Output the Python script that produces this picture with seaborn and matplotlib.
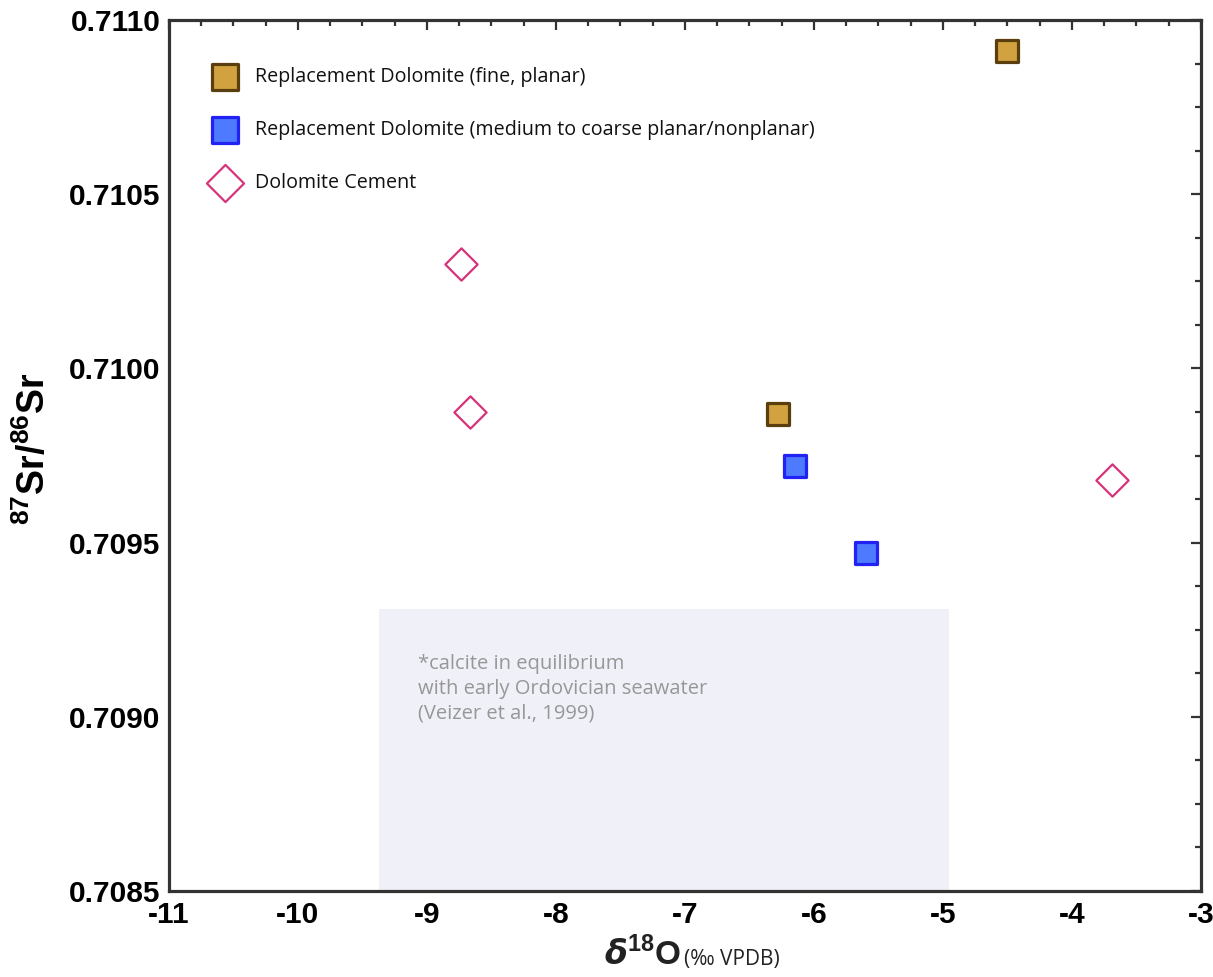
import matplotlib
matplotlib.use("Agg")
import matplotlib.pyplot as plt
from matplotlib.ticker import MultipleLocator, FormatStrFormatter
from matplotlib.patches import Rectangle
import seaborn as sns
import pandas as pd

# Sample groups: d18O (per mil VPDB) vs 87Sr/86Sr
fine_x = [-4.50, -6.28]
fine_y = [0.71091, 0.70987]
coarse_x = [-6.15, -5.60]
coarse_y = [0.70972, 0.70947]
cement_x = [-8.74, -8.67, -3.69]
cement_y = [0.71030, 0.709875, 0.70968]

labels = [
    "Replacement Dolomite (fine, planar)",
    "Replacement Dolomite (medium to coarse planar/nonplanar)",
    "Dolomite Cement",
]

# Seawater-equilibrium calcite field
sw_x = (-9.37, -4.95)
sw_y = (0.7085, 0.70931)
sw_note = "*calcite in equilibrium\nwith early Ordovician seawater\n(Veizer et al., 1999)"

sns.set_theme(style="white")
plt.rcParams["font.family"] = ["Liberation Sans", "DejaVu Sans"]
plt.rcParams["mathtext.fontset"] = "custom"
plt.rcParams["mathtext.bf"] = "Liberation Sans:bold"
plt.rcParams["mathtext.rm"] = "Liberation Sans"

fig = plt.figure(figsize=(12.13, 9.77), dpi=100)
ax = fig.add_axes([0.1393, 0.088, 0.8508, 0.8915])

ax.add_patch(Rectangle((sw_x[0], sw_y[0]), sw_x[1] - sw_x[0], sw_y[1] - sw_y[0],
                       facecolor="#F0F0F8", edgecolor="none", zorder=0))
ax.text(-9.07, 0.70918, sw_note, color="#979797", fontsize=14.5,
        family=["Open Sans", "DejaVu Sans"], va="top", ha="left",
        linespacing=1.3, zorder=1)

fine = pd.DataFrame({"x": fine_x, "y": fine_y})
coarse = pd.DataFrame({"x": coarse_x, "y": coarse_y})
cement = pd.DataFrame({"x": cement_x, "y": cement_y})

sns.scatterplot(data=fine, x="x", y="y", ax=ax, marker="s", s=260,
                color="#D1A23F", edgecolor="#5A3E0E", linewidth=2.3,
                label=labels[0], zorder=3)
sns.scatterplot(data=coarse, x="x", y="y", ax=ax, marker="s", s=260,
                color="#4D7AFF", edgecolor="#2222F5", linewidth=2.3,
                label=labels[1], zorder=3)
sns.scatterplot(data=cement, x="x", y="y", ax=ax, marker="D", s=270,
                color="white", edgecolor="#D6337A", linewidth=1.6,
                label=labels[2], zorder=3)

ax.set_xlim(-11, -3)
ax.set_ylim(0.7085, 0.7110)
ax.xaxis.set_major_locator(MultipleLocator(1))
ax.xaxis.set_minor_locator(MultipleLocator(0.25))
ax.yaxis.set_major_locator(MultipleLocator(0.0005))
ax.yaxis.set_minor_locator(MultipleLocator(0.000125))
ax.yaxis.set_major_formatter(FormatStrFormatter("%.4f"))
ax.xaxis.set_major_formatter(FormatStrFormatter("%d"))

spine_col = "#333333"
for sp in ax.spines.values():
    sp.set_linewidth(2.3)
    sp.set_color(spine_col)
ax.tick_params(which="both", direction="in", top=True, right=True,
               color=spine_col, width=1.6)
ax.tick_params(which="major", length=7.5, labelsize=21.5)
ax.tick_params(axis="y", which="major", pad=6)
ax.tick_params(axis="x", which="major", pad=7.5)
ax.tick_params(which="minor", length=4)
for lab in ax.get_xticklabels() + ax.get_yticklabels():
    lab.set_fontweight("bold")
ax.tick_params(labelcolor="black")

ax.set_xlabel("")
ax.set_ylabel(r"$\mathbf{^{87}Sr/^{86}Sr}$", fontsize=27, color="black")
ax.yaxis.set_label_coords(-0.112, 0.508)

fig.text(0.561, 0.012, r"$\boldsymbol{\delta}^{\mathbf{18}}\mathbf{O}$",
         fontsize=24, ha="right", va="baseline", color="#222222",
         family=["Open Sans", "DejaVu Sans"])
fig.text(0.5635, 0.012, "(‰ VPDB)", fontsize=15, ha="left", va="baseline",
         color="#222222", family=["Open Sans", "DejaVu Sans"])

leg = ax.legend(loc="upper left", bbox_to_anchor=(0.040, 0.946), frameon=False,
                prop={"family": ["Open Sans", "DejaVu Sans"], "size": 14.2},
                handlelength=1.5, handletextpad=0.75, labelspacing=1.68,
                borderpad=0, borderaxespad=0, markerscale=1.15)
for t in leg.get_texts():
    t.set_color("#111111")

fig.savefig("out.png", dpi=100)
